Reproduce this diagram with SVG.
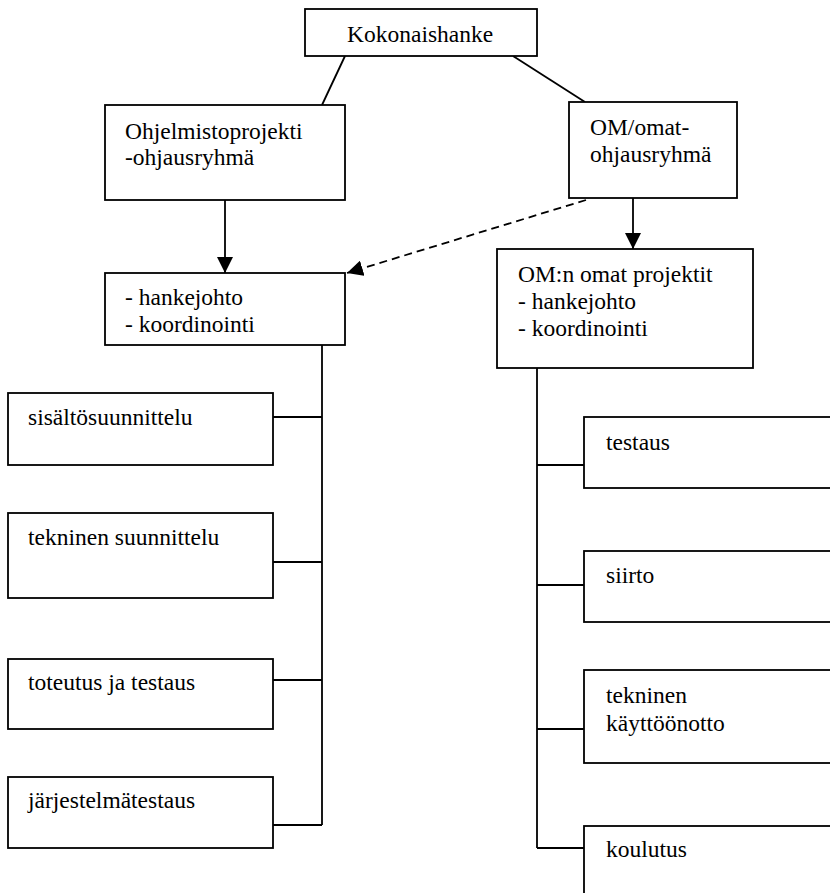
<svg xmlns="http://www.w3.org/2000/svg" width="830" height="893" viewBox="0 0 830 893">
<style>
.box{fill:#fff;stroke:#000;stroke-width:1.8}
.t{font-family:"Liberation Serif","Times New Roman",serif;font-size:23.5px;fill:#000}
.c{fill:none;stroke:#000;stroke-width:1.8}
.d{fill:none;stroke:#000;stroke-width:1.8;stroke-dasharray:8 5}
</style>
<defs>
<marker id="ah" markerUnits="userSpaceOnUse" markerWidth="16" markerHeight="16" refX="16" refY="8" orient="auto" viewBox="0 0 16 16">
<path d="M0,0 L16,8 L0,16 z" fill="#000"/>
</marker>
</defs>
<rect width="830" height="893" fill="#fff"/>
<g id="connectors">
<line class="c" x1="345" y1="56" x2="322" y2="105"/>
<line class="c" x1="513" y1="56" x2="585" y2="102"/>
<line class="c" x1="225" y1="200" x2="225" y2="273" marker-end="url(#ah)"/>
<line class="c" x1="633" y1="198" x2="633" y2="249" marker-end="url(#ah)"/>
<line class="d" x1="586" y1="200" x2="347" y2="273" marker-end="url(#ah)"/>
<path class="c" d="M322,345 V825 M273,417 H322 M273,562 H322 M273,680 H322 M273,825 H322"/>
<path class="c" d="M537,368 V848 M537,465 H584 M537,585 H584 M537,729 H584 M537,848 H584"/>
</g>
<g id="kokonaishanke">
<rect class="box" x="305" y="9" width="232" height="47"/>
<text class="t" x="347" y="42">Kokonaishanke</text>
</g>
<g id="ohjelmistoprojekti">
<rect class="box" x="105" y="105" width="240" height="95"/>
<text class="t" x="125" y="139">Ohjelmistoprojekti</text>
<text class="t" x="125" y="165">-ohjausryhmä</text>
</g>
<g id="om-ohjausryhma">
<rect class="box" x="569" y="102" width="168" height="96"/>
<text class="t" x="590" y="135">OM/omat-</text>
<text class="t" x="590" y="162">ohjausryhmä</text>
</g>
<g id="hankejohto">
<rect class="box" x="105" y="273" width="240" height="72"/>
<text class="t" x="125" y="305">- hankejohto</text>
<text class="t" x="125" y="332">- koordinointi</text>
</g>
<g id="om-projektit">
<rect class="box" x="497" y="249" width="256" height="119"/>
<text class="t" x="518" y="282">OM:n omat projektit</text>
<text class="t" x="518" y="309">- hankejohto</text>
<text class="t" x="518" y="336">- koordinointi</text>
</g>
<g id="sisaltosuunnittelu">
<rect class="box" x="8" y="393" width="265" height="72"/>
<text class="t" x="28" y="425">sisältösuunnittelu</text>
</g>
<g id="tekninen-suunnittelu">
<rect class="box" x="8" y="513" width="265" height="85"/>
<text class="t" x="28" y="545">tekninen suunnittelu</text>
</g>
<g id="toteutus">
<rect class="box" x="8" y="659" width="265" height="70"/>
<text class="t" x="28" y="690">toteutus ja testaus</text>
</g>
<g id="jarjestelmatestaus">
<rect class="box" x="8" y="777" width="265" height="71"/>
<text class="t" x="28" y="808">järjestelmätestaus</text>
</g>
<g id="testaus">
<rect class="box" x="584" y="417" width="270" height="71"/>
<text class="t" x="606" y="450">testaus</text>
</g>
<g id="siirto">
<rect class="box" x="584" y="551" width="270" height="71"/>
<text class="t" x="606" y="583">siirto</text>
</g>
<g id="kayttoonotto">
<rect class="box" x="584" y="670" width="270" height="93"/>
<text class="t" x="606" y="703">tekninen</text>
<text class="t" x="606" y="731">käyttöönotto</text>
</g>
<g id="koulutus">
<rect class="box" x="584" y="826" width="270" height="90"/>
<text class="t" x="606" y="857">koulutus</text>
</g>
</svg>
